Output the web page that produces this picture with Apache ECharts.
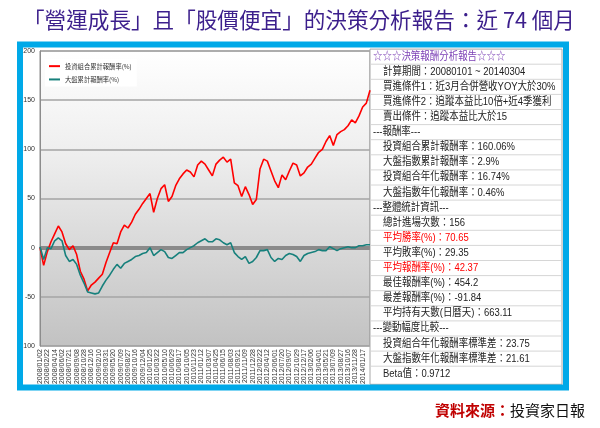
<!DOCTYPE html>
<html><head><meta charset="utf-8">
<script src="https://cdn.jsdelivr.net/npm/echarts@6/dist/echarts.min.js"></script>
<style>html,body{margin:0;padding:0;background:#fff;}#c{width:600px;height:428px;}</style>
</head><body><div id="c"></div>
<script>
const dates = ['2008/01/02','2008/01/28','2008/02/22','2008/03/18','2008/04/14','2008/05/08','2008/06/02','2008/06/26','2008/07/21','2008/08/14','2008/09/08','2008/10/02','2008/10/28','2008/11/21','2008/12/16','2009/01/13','2009/02/10','2009/03/06','2009/03/31','2009/04/24','2009/05/20','2009/06/15','2009/07/09','2009/08/03','2009/08/27','2009/09/21','2009/10/16','2009/11/10','2009/12/04','2009/12/29','2010/01/25','2010/02/24','2010/03/22','2010/04/15','2010/05/10','2010/06/03','2010/06/29','2010/07/23','2010/08/17','2010/09/10','2010/10/05','2010/10/29','2010/11/23','2010/12/17','2011/01/12','2011/02/14','2011/03/07','2011/03/31','2011/04/25','2011/05/20','2011/06/15','2011/07/08','2011/08/03','2011/08/26','2011/09/21','2011/10/14','2011/11/09','2011/12/02','2011/12/28','2012/01/19','2012/02/22','2012/03/16','2012/04/12','2012/05/07','2012/06/01','2012/06/26','2012/07/20','2012/08/13','2012/09/07','2012/10/03','2012/10/29','2012/11/22','2012/12/17','2013/01/11','2013/02/06','2013/03/05','2013/04/01','2013/04/25','2013/05/21','2013/06/14','2013/07/09','2013/08/01','2013/08/27','2013/09/19','2013/10/16','2013/11/06','2013/11/28','2013/12/23','2014/01/17','2014/02/12','2014/03/04'];

const portfolio = [0,-18,-4,6,14,22,16,4,-2,2,
 -7,-24,-32,-44,-38,-35,-31,-27,-15,-5,
 5,4,16,23,20,26,34,39,45,50,
 55,36,50,60,64,47,52,63,70,75,
 79,77,72,84,88,85,79,73,85,89,
 92,87,90,66,63,52,62,54,44,49,
 80,90,88,78,68,61,74,69,78,86,
 84,73,76,82,85,91,97,100,108,114,
 104,115,118,120,124,130,127,134,143,147,
 160.06];

const market = [1,-12,0,-1,7,10,7,-8,-14,-12,
 -17,-28,-36,-45,-46,-47,-46,-39,-33,-28,
 -22,-17,-21,-16,-14,-12,-9,-8,-6,-5,
 0,-8,-5,-2,-4,-10,-11,-8,-5,-5,
 -2,0,2,5,7,9,6,6,9,8,
 5,3,5,-5,-9,-12,-9,-16,-14,-10,
 -3,-3,-2,-10,-14,-11,-12,-8,-6,-7,
 -9,-14,-8,-6,-5,-4,-2,-3,-3,1,
 -1,-3,-1,0,1,0,0,2,2,3,
 2.9];

const seriesNames = ['投資組合累計報酬率(%)', '大盤累計報酬率(%)'];
const chartTitle = '「營運成長」且「股價便宜」的決策分析報告：近 74 個月';
const sourceLabel = '資料來源：';
const sourceName = '投資家日報';

const panelRows = [
 '☆☆☆決策報酬分析報告☆☆☆',
 '計算期間：20080101 ~ 20140304',
 '買進條件1：近3月合併營收YOY大於30%',
 '買進條件2：追蹤本益比10倍+近4季獲利',
 '賣出條件：追蹤本益比大於15',
 '---報酬率---',
 '投資組合累計報酬率：160.06%',
 '大盤指數累計報酬率：2.9%',
 '投資組合年化報酬率：16.74%',
 '大盤指數年化報酬率：0.46%',
 '---整體統計資訊---',
 '總計進場次數：156',
 '平均勝率(%)：70.65',
 '平均敗率(%)：29.35',
 '平均報酬率(%)：42.37',
 '最佳報酬率(%)：454.2',
 '最差報酬率(%)：-91.84',
 '平均持有天數(日曆天)：663.11',
 '---變動幅度比較---',
 '投資組合年化報酬率標準差：23.75',
 '大盤指數年化報酬率標準差：21.61',
 'Beta值：0.9712'
];
const highlightRows = ['平均勝率(%)：70.65', '平均報酬率(%)：42.37'];

const FONT = "'Liberation Sans','Noto Sans CJK TC',sans-serif";
const CJK = "'Noto Sans CJK TC',sans-serif";

const graphics = [];
graphics.push({type:'rect', shape:{x:20, y:44.5, width:546, height:343}, style:{fill:'none', stroke:'#00a9e8', lineWidth:6}, z:10});
const rowH = 15.1, top0 = 49.1;
graphics.push({type:'rect', shape:{x:370, y:top0, width:192, height:rowH*22+3}, style:{fill:'#fff', stroke:'#a8a8a8', lineWidth:1}, z:1});
panelRows.forEach((t, k) => {
  const isTitle = k === 0;
  const isHeader = t.startsWith('---');
  const color = isTitle ? '#7b3fb5' : (highlightRows.includes(t) ? '#ff0000' : '#222');
  graphics.push({type:'text', x:(isTitle||isHeader)?373:383, y:top0 + (k+0.5)*rowH, z:3, scaleX:0.86,
    style:{text:t, fill:color, font:"11px " + FONT, textVerticalAlign:'middle', textAlign:'left'}});
  if (k < panelRows.length - 1) {
    graphics.push({type:'line', shape:{x1:371, y1:top0+(k+1)*rowH, x2:561, y2:top0+(k+1)*rowH}, style:{stroke:'#d6d6d6', lineWidth:1}, z:2});
  }
});

const chart = echarts.init(document.getElementById('c'), null, {renderer:'canvas'});
chart.setOption({
  animation:false,
  backgroundColor:'#fff',
  title:[{
    text:chartTitle, left:18, top:4,
    textStyle:{color:'#3c1f8c', fontSize:21.6, fontWeight:'normal', fontFamily:CJK}
  },{
    text:'{a|' + sourceLabel + '}{b|' + sourceName + '}', right:10, top:398,
    textStyle:{fontWeight:'normal', rich:{a:{color:'#c00000', fontSize:15, fontFamily:CJK, fontWeight:'bold'}, b:{color:'#111', fontSize:15, fontFamily:CJK, fontWeight:'normal'}}}
  }],
  legend:{
    data:seriesNames, orient:'vertical', left:45, top:59, itemWidth:11, itemHeight:2, itemGap:7,
    icon:'rect', backgroundColor:'#fff', padding:[4,5,4,4],
    textStyle:{fontSize:6.3, color:'#333', fontFamily:CJK}
  },
  grid:{left:40, right:230, top:51, bottom:82, show:true, borderColor:'#8c8c8c', borderWidth:1,
    backgroundColor:new echarts.graphic.LinearGradient(0,0,0,1,[{offset:0,color:'#ffffff'},{offset:0.35,color:'#eeeeee'},{offset:1,color:'#c2c2c2'}])},
  xAxis:{
    type:'category', data:dates, boundaryGap:false,
    axisLine:{lineStyle:{color:'#8c8c8c'}}, axisTick:{show:false},
    axisLabel:{rotate:90, fontSize:7, color:'#333', margin:3, fontFamily:FONT,
      interval:(i) => i % 2 === 0 && i <= 88},
    splitLine:{show:false}
  },
  yAxis:{
    type:'value', min:-100, max:200, interval:50,
    axisLine:{show:true, lineStyle:{color:'#8c8c8c'}}, axisTick:{show:false},
    axisLabel:{fontSize:7, color:'#333', margin:5, fontFamily:FONT},
    splitLine:{lineStyle:{color:'#a4a4a4', width:1.5}}
  },
  series:[{
    name:seriesNames[0], type:'line', data:portfolio, symbol:'none', z:4,
    lineStyle:{color:'#ff0000', width:1.6}, itemStyle:{color:'#ff0000'}
  },{
    name:seriesNames[1], type:'line', data:market, symbol:'none', z:5,
    lineStyle:{color:'#17807c', width:1.6}, itemStyle:{color:'#17807c'},
    markLine:{silent:true, symbol:'none', z:1, label:{show:false},
      lineStyle:{color:'#8a8a8a', width:4, type:'solid'}, data:[{yAxis:0}]}
  }],
  graphic:graphics
});
</script></body></html>
